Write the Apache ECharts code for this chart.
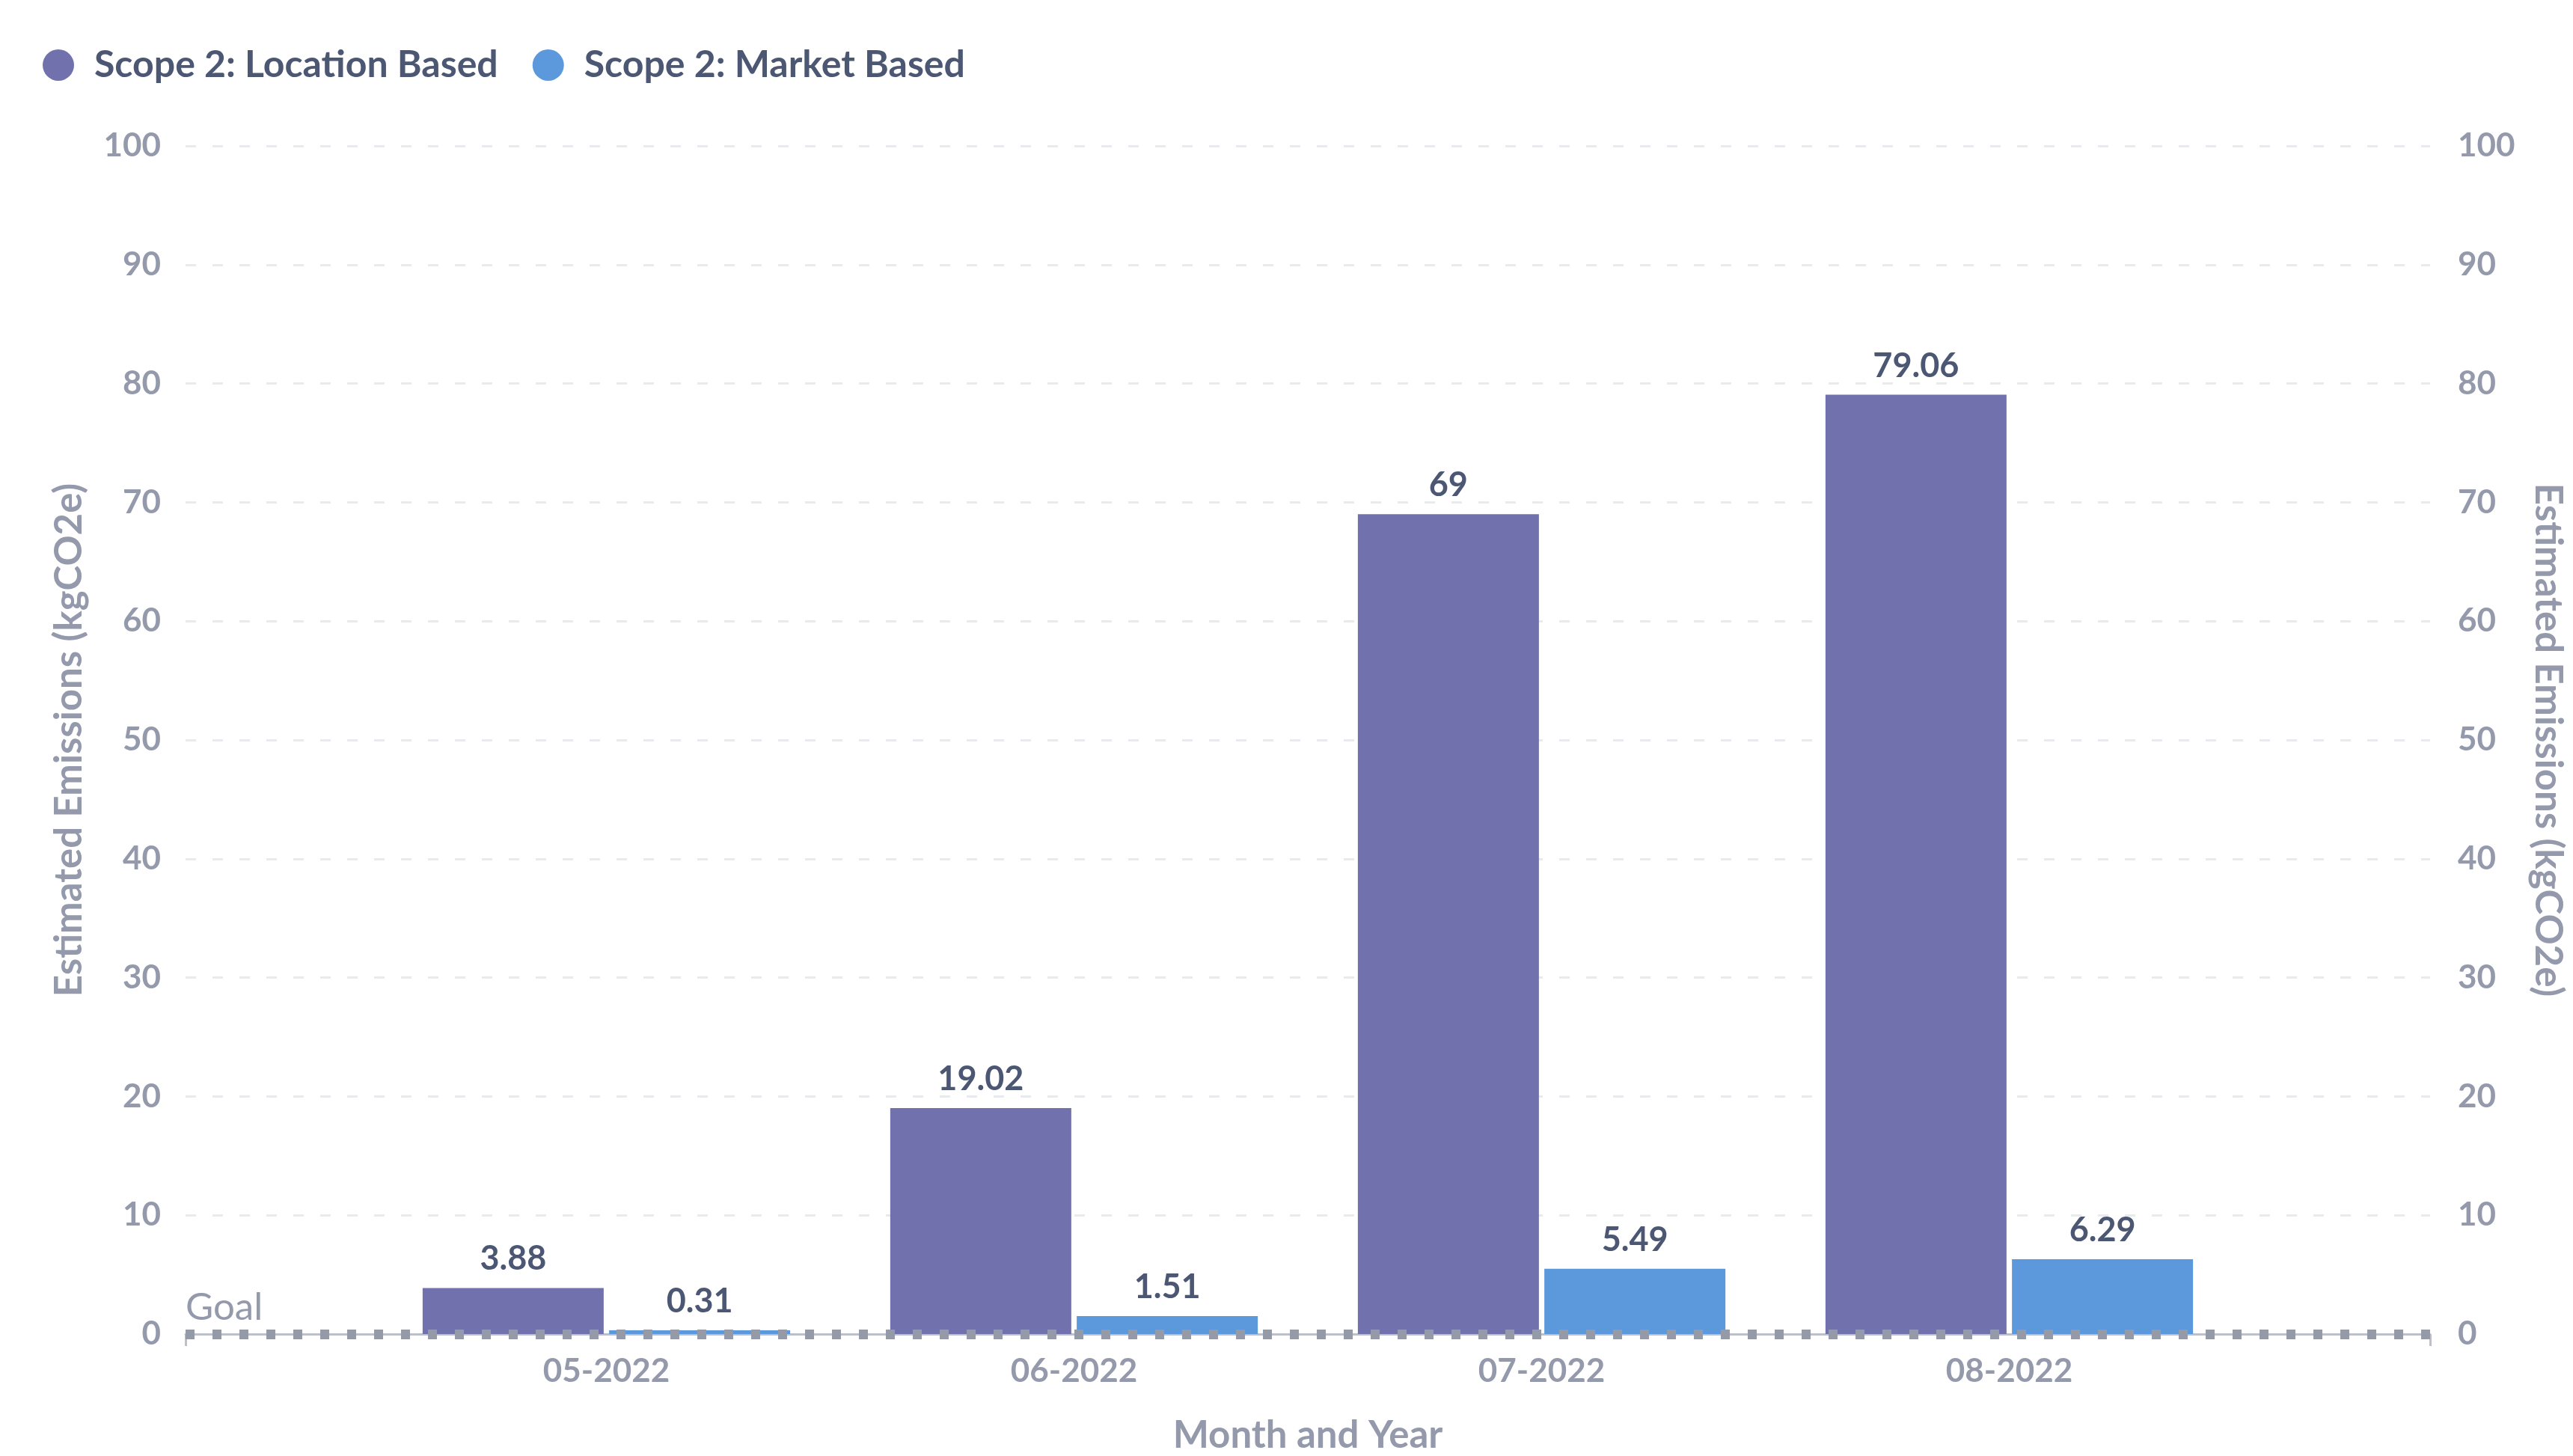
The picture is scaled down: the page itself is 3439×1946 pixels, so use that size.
<!DOCTYPE html>
<html>
<head>
<meta charset="utf-8">
<script src="https://cdn.jsdelivr.net/npm/echarts@6/dist/echarts.min.js"></script>
<style>
html,body{margin:0;padding:0;background:#fff;}
#main{width:3439px;height:1946px;}
</style>
</head>
<body>
<div id="main"></div>
<script>
const categories = ['05-2022', '06-2022', '07-2022', '08-2022'];
const locationBased = [3.88, 19.02, 69, 79.06];
const marketBased = [0.31, 1.51, 5.49, 6.29];
const goalValue = 0;
const yTicks = [0, 10, 20, 30, 40, 50, 60, 70, 80, 90, 100];

const FONT = 'Lato';
const GRAY = '#949aab';
const DARK = '#4c5773';
const xMin = -0.9, xMax = categories.length - 1 + 0.9;

const chart = echarts.init(document.getElementById('main'), null, {renderer: 'canvas'});
const tickLabelStyle = {fontFamily: FONT, fontSize: 44, fontWeight: 'bold', color: GRAY};
const nameStyle = {fontFamily: FONT, fontSize: 51, fontWeight: 'bold', color: GRAY};

chart.setOption({
  animation: false,
  backgroundColor: '#ffffff',
  legend: {
    left: 52, top: 57,
    icon: 'circle', itemWidth: 42, itemHeight: 42, itemGap: 46,
    textStyle: {fontFamily: FONT, fontSize: 50, fontWeight: 'bold', color: DARK, padding: [0, 0, 0, 22]},
    data: ['Scope 2: Location Based', 'Scope 2: Market Based']
  },
  grid: {left: 248, right: 191, top: 195, bottom: 163, containLabel: false, outerBoundsMode: 'none'},
  xAxis: {
    type: 'value', min: xMin, max: xMax,
    name: 'Month and Year', nameLocation: 'middle', nameGap: 110,
    nameTextStyle: nameStyle,
    axisLine: {show: true, lineStyle: {color: '#bcc0ca', width: 3}},
    axisTick: {show: true, customValues: [xMin, xMax], length: 16, lineStyle: {color: '#bcc0ca', width: 3}},
    axisLabel: {
      customValues: categories.map((c, i) => i),
      formatter: v => categories[Math.round(v)] || '',
      margin: 28, ...tickLabelStyle
    },
    splitLine: {show: false}
  },
  yAxis: [
    {
      type: 'value', min: 0, max: 100, interval: 10, position: 'left',
      name: 'Estimated Emissions (kgCO2e)', nameLocation: 'middle', nameGap: 130, nameRotate: 90,
      nameTextStyle: nameStyle,
      axisLine: {show: false}, axisTick: {show: false},
      axisLabel: {margin: 33, formatter: v => yTicks.includes(v) ? String(v) : '', ...tickLabelStyle},
      splitLine: {show: true, lineStyle: {color: '#e9eaee', width: 3, type: [14, 22]}}
    },
    {
      type: 'value', min: 0, max: 100, interval: 10, position: 'right',
      name: 'Estimated Emissions (kgCO2e)', nameLocation: 'middle', nameGap: 132, nameRotate: -90,
      nameTextStyle: nameStyle,
      axisLine: {show: false}, axisTick: {show: false},
      axisLabel: {margin: 37, formatter: v => yTicks.includes(v) ? String(v) : '', ...tickLabelStyle},
      splitLine: {show: false}
    }
  ],
  series: [
    {
      name: 'Scope 2: Location Based', type: 'bar', yAxisIndex: 0,
      barWidth: 242, barGap: '3%',
      itemStyle: {color: '#7172ad'},
      label: {show: true, position: 'top', distance: 16, fontFamily: FONT, fontSize: 45, fontWeight: 'bold', color: DARK,
        formatter: p => String(p.value[1])},
      data: locationBased.map((v, i) => [i, v])
    },
    {
      name: 'Scope 2: Market Based', type: 'bar', yAxisIndex: 0,
      barWidth: 242, barGap: '3%',
      itemStyle: {color: '#5b99dc'},
      label: {show: true, position: 'top', distance: 16, fontFamily: FONT, fontSize: 45, fontWeight: 'bold', color: DARK,
        formatter: p => String(p.value[1])},
      data: marketBased.map((v, i) => [i, v]),
      markLine: {
        silent: true, symbol: 'none', animation: false,
        lineStyle: {color: '#959aa9', width: 13, type: [12, 24]},
        label: {show: true, position: 'insideStartTop', formatter: 'Goal', distance: [0, 10],
          fontFamily: FONT, fontSize: 51, color: GRAY},
        data: [{yAxis: goalValue}]
      }
    }
  ]
});
</script>
</body>
</html>
